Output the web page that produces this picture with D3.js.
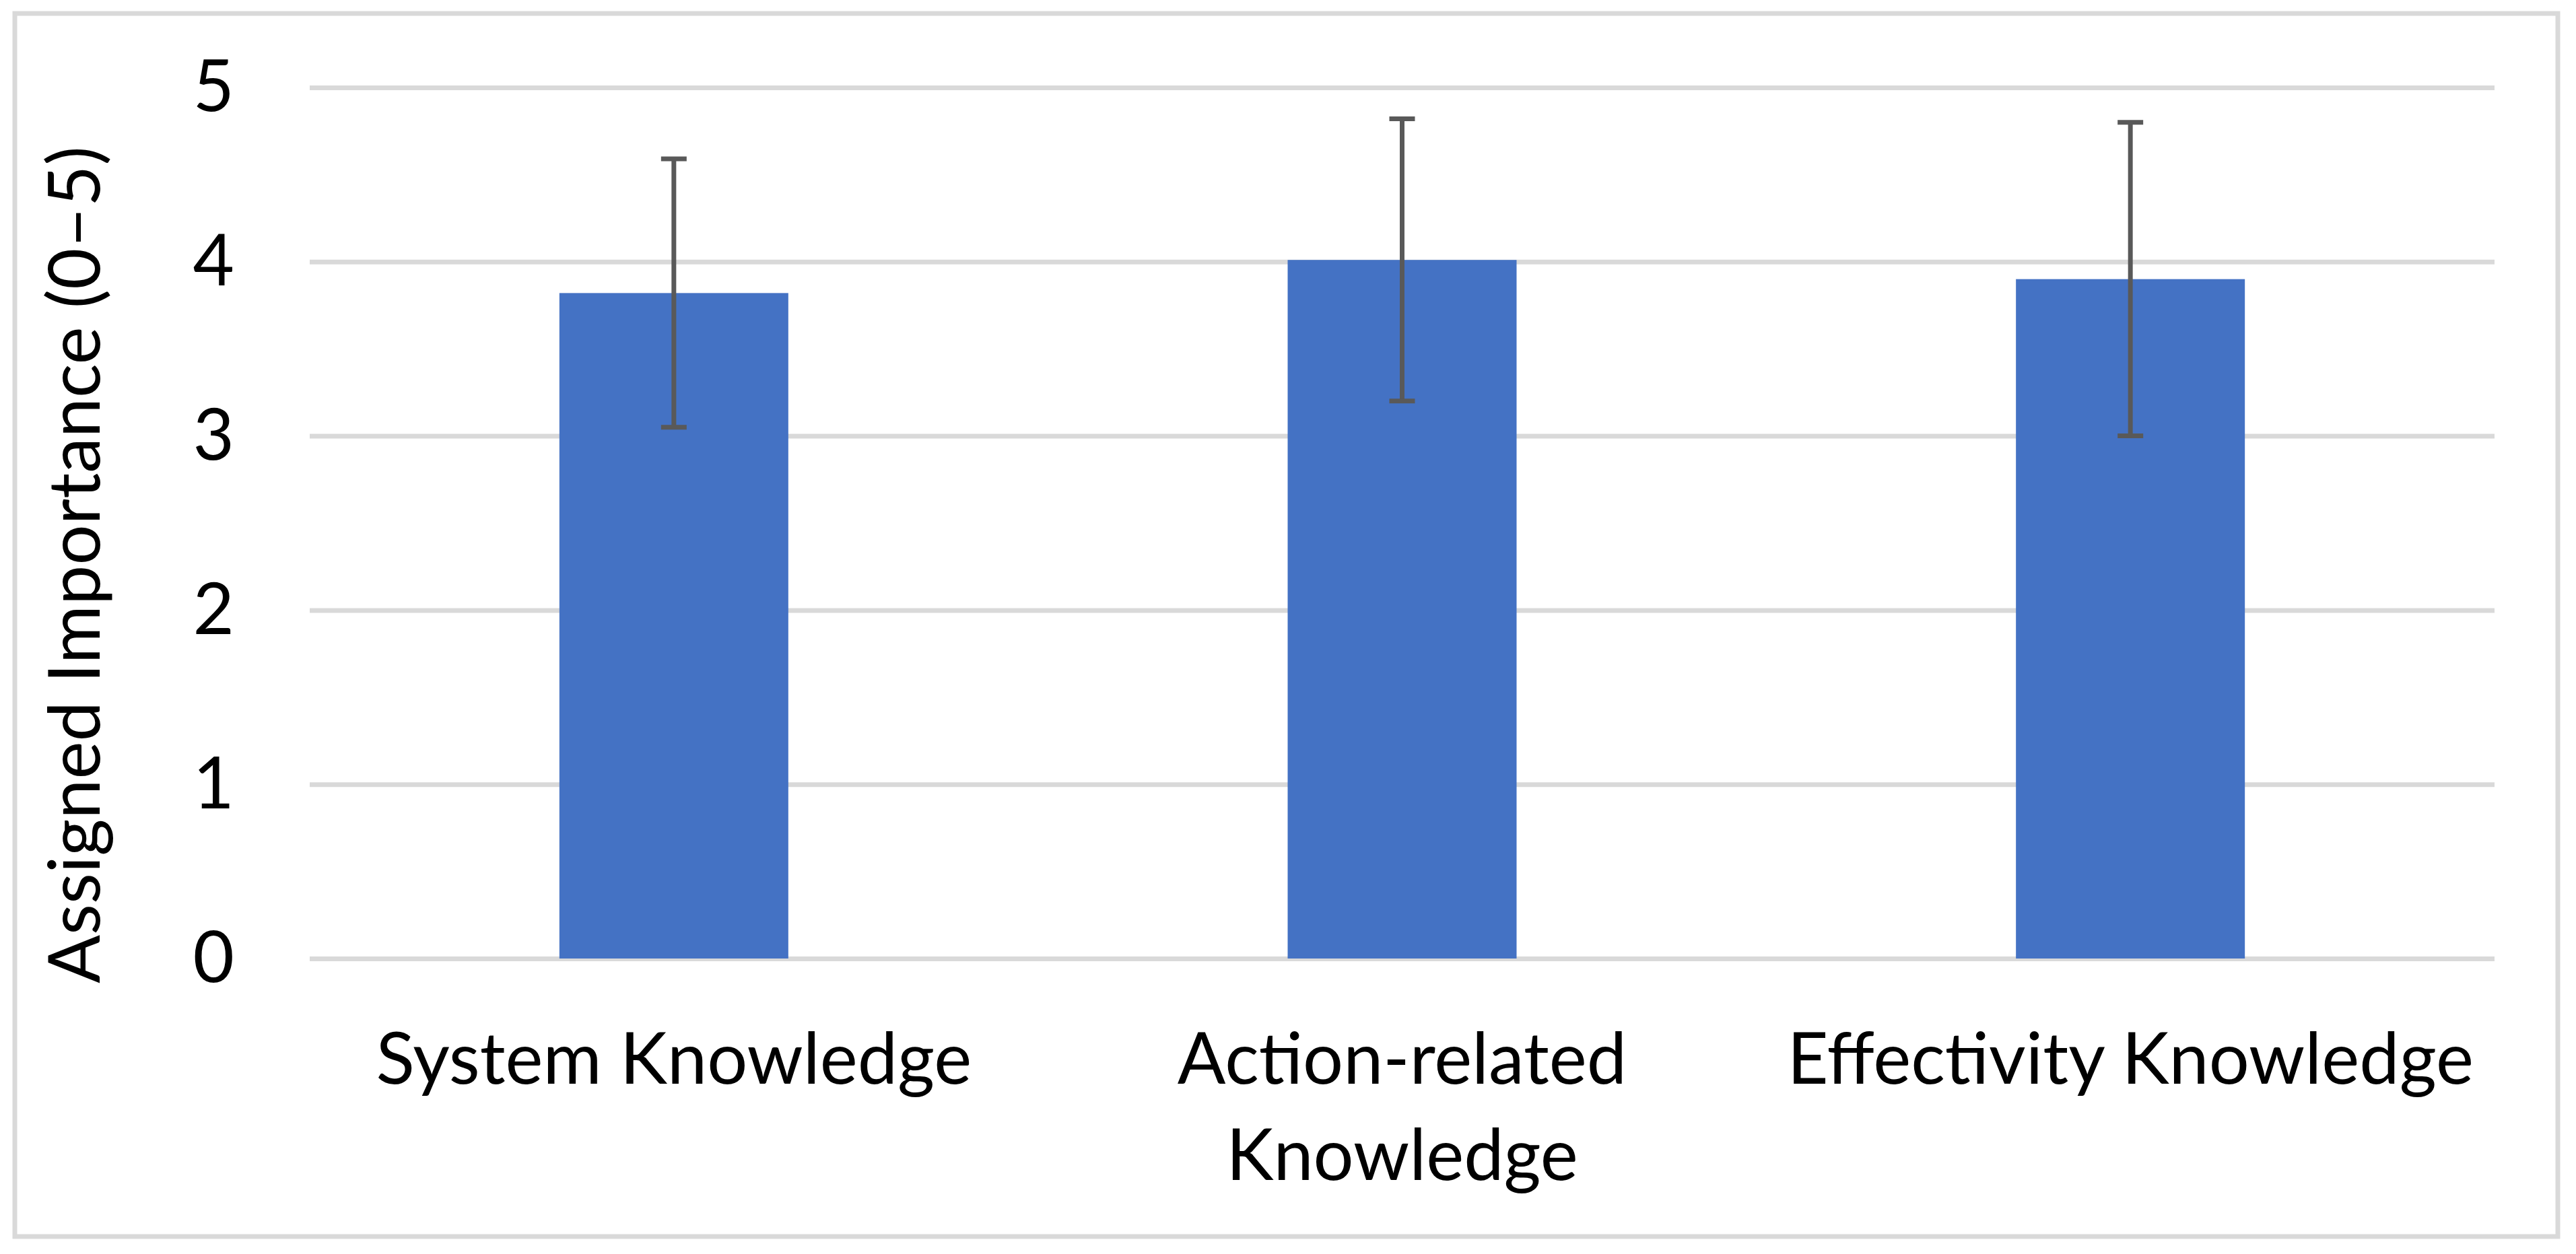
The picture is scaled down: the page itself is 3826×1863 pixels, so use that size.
<!DOCTYPE html>
<html>
<head>
<meta charset="utf-8">
<script src="https://cdn.jsdelivr.net/npm/d3@7"></script>
<style>
  html, body { margin: 0; padding: 0; background: #ffffff; }
  svg { display: block; }
  text { font-family: Lato, "Open Sans", sans-serif; fill: #000000; }
</style>
</head>
<body>
<svg id="chart" width="3826" height="1863"></svg>
<script>
// ---- data ----
const categories = ["System Knowledge", "Action-related Knowledge", "Effectivity Knowledge"];
const meanValues = [3.82, 4.01, 3.90];
const errorValues = [0.77, 0.81, 0.90];
const yTickValues = [0, 1, 2, 3, 4, 5];
const yAxisTitle = "Assigned Importance (0\u20135)";

// ---- layout ----
const W = 3826, H = 1863;
const plot = { left: 460, right: 3705, top: 130, bottom: 1424 };
const fontSize = 106;
const barColor = "#4472C4";
const gridColor = "#D9D9D9";
const errColor = "#595959";

const svg = d3.select("#chart");
svg.append("rect").attr("x", 0).attr("y", 0).attr("width", W).attr("height", H).attr("fill", "#ffffff");

// outer frame
svg.append("rect")
  .attr("x", 22).attr("y", 20).attr("width", 3777).attr("height", 1817)
  .attr("fill", "none").attr("stroke", gridColor).attr("stroke-width", 7);

const barFrac = 340 / ((plot.right - plot.left) / categories.length);
const pad = 1 - barFrac;
const x = d3.scaleBand().domain(categories).range([plot.left, plot.right])
  .paddingInner(pad).paddingOuter(pad / 2);
const y = d3.scaleLinear().domain([0, 5]).range([plot.bottom, plot.top]);

// gridlines
const grid = svg.append("g").attr("transform", `translate(${plot.left},0)`)
  .call(d3.axisLeft(y).tickValues(yTickValues).tickSize(-(plot.right - plot.left)).tickFormat(""));
grid.select(".domain").remove();
grid.selectAll(".tick line").attr("stroke", gridColor).attr("stroke-width", 7);

// y tick labels
const yAx = svg.append("g").attr("transform", `translate(348,0)`)
  .call(d3.axisLeft(y).tickValues(yTickValues).tickSize(0).tickPadding(0).tickFormat(d3.format("d")));
yAx.select(".domain").remove();
yAx.selectAll(".tick line").remove();
yAx.selectAll(".tick text")
  .attr("font-size", fontSize).attr("text-anchor", "end").attr("x", 0).attr("dy", "0.33em")
  .style("font-family", "Lato, sans-serif").attr("fill", "#000");

// bars
const rows = categories.map((c, i) => ({ c, m: meanValues[i], e: errorValues[i] }));
svg.append("g").selectAll("rect").data(rows).join("rect")
  .attr("x", d => x(d.c)).attr("width", x.bandwidth())
  .attr("y", d => y(d.m)).attr("height", d => y(0) - y(d.m))
  .attr("fill", barColor);

// error bars
const eg = svg.append("g").attr("stroke", errColor).attr("stroke-width", 7).attr("fill", "none");
const cx = d => x(d.c) + x.bandwidth() / 2;
const capHalf = 19;
eg.selectAll("line.v").data(rows).join("line").attr("class", "v")
  .attr("x1", cx).attr("x2", cx)
  .attr("y1", d => y(d.m + d.e)).attr("y2", d => y(d.m - d.e));
eg.selectAll("line.t").data(rows).join("line").attr("class", "t")
  .attr("x1", d => cx(d) - capHalf).attr("x2", d => cx(d) + capHalf)
  .attr("y1", d => y(d.m + d.e)).attr("y2", d => y(d.m + d.e));
eg.selectAll("line.b").data(rows).join("line").attr("class", "b")
  .attr("x1", d => cx(d) - capHalf).attr("x2", d => cx(d) + capHalf)
  .attr("y1", d => y(d.m - d.e)).attr("y2", d => y(d.m - d.e));

// x category labels (wrapped)
const xAx = svg.append("g").attr("transform", `translate(0,${plot.bottom})`)
  .call(d3.axisBottom(x).tickSize(0).tickPadding(0));
xAx.select(".domain").remove();
const maxW = x.step();
const lineH = 143;
xAx.selectAll(".tick text").each(function (d) {
  const t = d3.select(this);
  t.text(null).attr("font-size", fontSize).attr("text-anchor", "middle")
   .attr("y", 0).attr("dy", 0).attr("fill", "#000");
  const words = d.split(" ");
  let lines = [], cur = [];
  const probe = t.append("tspan");
  words.forEach(w => {
    const test = cur.concat([w]).join(" ");
    probe.text(test);
    if (probe.node().getComputedTextLength() > maxW && cur.length) {
      lines.push(cur.join(" ")); cur = [w];
    } else cur.push(w);
  });
  lines.push(cur.join(" "));
  probe.remove();
  lines.forEach((ln, i) => {
    t.append("tspan").attr("x", 0).attr("y", 186 + i * lineH).text(ln);
  });
});

// y axis title
svg.append("text")
  .attr("transform", `translate(148,839) rotate(-90)`)
  .attr("text-anchor", "middle")
  .attr("font-size", fontSize)
  .attr("fill", "#000")
  .text(yAxisTitle);
</script>
</body>
</html>
